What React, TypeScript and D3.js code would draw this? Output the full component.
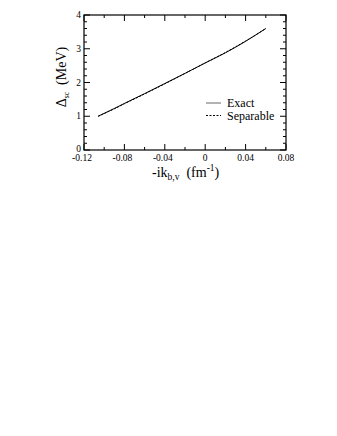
import { useEffect, useRef } from 'react';
import * as d3 from 'd3';

// -ik_{b,v} (fm^-1)
const kValues = [-0.106, -0.09, -0.08, -0.06, -0.04, -0.02, 0, 0.02, 0.04, 0.06];
// Delta_sc (MeV)
const exactValues = [1.0, 1.23, 1.38, 1.67, 1.97, 2.27, 2.58, 2.88, 3.22, 3.6];
const separableValues = [1.0, 1.22, 1.37, 1.66, 1.96, 2.27, 2.58, 2.89, 3.23, 3.6];

const xTicks = [-0.12, -0.08, -0.04, 0, 0.04, 0.08];
const xMinorTicks = [-0.1, -0.06, -0.02, 0.02, 0.06];
const yTicks = [0, 1, 2, 3, 4];
const yMinorTicks = d3.range(0, 4.001, 0.2).filter((v) => Math.abs(v - Math.round(v)) > 0.01);

const legendItems = [
  { label: 'Exact', dash: null },
  { label: 'Separable', dash: '2,1.5' },
];

function App() {
  const svgRef = useRef<SVGSVGElement>(null);

  useEffect(() => {
    const margin = { top: 15, right: 51, bottom: 286, left: 84 },
      width = 337 - margin.left - margin.right,
      height = 436 - margin.top - margin.bottom;

    const root = d3.select(svgRef.current);
    root.selectAll('*').remove();

    const svg = root.append('g').attr('transform', `translate(${margin.left}, ${margin.top})`);

    const x = d3.scaleLinear().domain([-0.12, 0.08]).range([0, width]);
    const y = d3.scaleLinear().domain([0, 4]).range([height, 0]);

    const font = '"Liberation Serif", "Times New Roman", serif';
    const major = 6,
      minor = 3;

    // ticks on all four sides, pointing inwards
    const tickG = svg.append('g').attr('stroke', '#000').attr('stroke-width', 1);
    const addX = (vals: number[], len: number) => {
      vals.forEach((v) => {
        tickG.append('line').attr('x1', x(v)).attr('x2', x(v)).attr('y1', height).attr('y2', height - len);
        tickG.append('line').attr('x1', x(v)).attr('x2', x(v)).attr('y1', 0).attr('y2', len);
      });
    };
    const addY = (vals: number[], len: number) => {
      vals.forEach((v) => {
        tickG.append('line').attr('x1', 0).attr('x2', len).attr('y1', y(v)).attr('y2', y(v));
        tickG.append('line').attr('x1', width).attr('x2', width - len).attr('y1', y(v)).attr('y2', y(v));
      });
    };
    addX(xTicks, major);
    addX(xMinorTicks, minor);
    addY(yTicks, major);
    addY(yMinorTicks, minor);

    svg
      .append('rect')
      .attr('x', 0)
      .attr('y', 0)
      .attr('width', width)
      .attr('height', height)
      .attr('fill', 'none')
      .attr('stroke', '#000')
      .attr('stroke-width', 1.2);

    // tick labels
    svg
      .append('g')
      .selectAll('text')
      .data(xTicks)
      .join('text')
      .attr('x', (d) => x(d) - (d < 0 ? 2 : 0))
      .attr('y', height + 11)
      .attr('text-anchor', 'middle')
      .attr('font-family', font)
      .attr('font-size', 9.5)
      .text((d) => (d === 0 ? '0' : d3.format('.2f')(d).replace('−', '-')));

    svg
      .append('g')
      .selectAll('text')
      .data(yTicks)
      .join('text')
      .attr('x', -3)
      .attr('y', (d) => y(d) + (d === 0 ? 1.5 : 3))
      .attr('text-anchor', 'end')
      .attr('font-family', font)
      .attr('font-size', 9.5)
      .text((d) => d);

    // curves
    const line = d3
      .line<number>()
      .x((d, i) => x(kValues[i]))
      .y((d) => y(d))
      .curve(d3.curveMonotoneX);

    svg
      .append('path')
      .datum(exactValues)
      .attr('fill', 'none')
      .attr('stroke', '#000')
      .attr('stroke-width', 1)
      .attr('d', line);

    svg
      .append('path')
      .datum(separableValues)
      .attr('fill', 'none')
      .attr('stroke', '#000')
      .attr('stroke-width', 1)
      .attr('stroke-dasharray', '2,1.5')
      .attr('d', line);

    // legend
    const leg = svg.append('g').attr('transform', `translate(${122}, ${88})`);
    legendItems.forEach((item, i) => {
      const g = leg.append('g').attr('transform', `translate(0, ${i * 12.5})`);
      g.append('line')
        .attr('x1', 0)
        .attr('x2', 15)
        .attr('y1', 0)
        .attr('y2', 0)
        .attr('stroke', item.dash ? '#000' : '#666')
        .attr('stroke-width', 1)
        .attr('stroke-dasharray', item.dash);
      g.append('text')
        .attr('x', 21)
        .attr('y', 4)
        .attr('font-family', font)
        .attr('font-size', 12)
        .text(item.label);
    });

    // axis titles
    const xt = svg
      .append('text')
      .attr('x', 68)
      .attr('y', height + 27)
      .attr('font-family', font)
      .attr('font-size', 14);
    xt.append('tspan').text('-ik');
    xt.append('tspan').attr('font-size', 9.5).attr('dy', 3).text('b,v');
    xt.append('tspan').attr('dy', -3).text('\u00a0\u00a0(fm');
    xt.append('tspan').attr('font-size', 9.5).attr('dy', -6).text('-1');
    xt.append('tspan').attr('dy', 6).text(')');

    const yt = svg
      .append('text')
      .attr('transform', `translate(${-18}, ${62}) rotate(-90)`)
      .attr('text-anchor', 'middle')
      .attr('font-family', font)
      .attr('font-size', 14);
    yt.append('tspan').text('\u0394');
    yt.append('tspan').attr('font-size', 7.5).attr('dy', 3).text('sc');
    yt.append('tspan').attr('dy', -3).text('\u00a0\u00a0(MeV)');
  }, []);

  return (
    <div>
      <svg
        ref={svgRef}
        width={337}
        height={436}
        style={{ position: 'absolute', left: 0, top: 0, background: '#fff' }}
      />
    </div>
  );
}

export default App;
